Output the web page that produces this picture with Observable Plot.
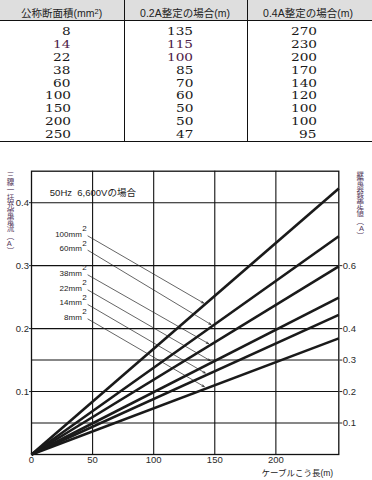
<!DOCTYPE html>
<html>
<head>
<meta charset="utf-8">
<script src="https://cdn.jsdelivr.net/npm/d3@7"></script>
<script src="https://cdn.jsdelivr.net/npm/@observablehq/plot@0.6"></script>
<style>
  body { margin: 0; background: #fff; }
  #wrap { position: relative; width: 372px; height: 480px; overflow: hidden; }
  #table { position: absolute; left: 0; top: 0; width: 372px; height: 145px; }
  #chart { position: absolute; left: 0; top: 145px; }
  .hbg { position: absolute; left: 0; top: 0; width: 372px; height: 20.5px; background: #dedede; }
  .hline { position: absolute; left: 0; width: 372px; background: #111; }
  .vline { position: absolute; top: 0; width: 1px; height: 142px; background: #111; }
  .htxt { position: absolute; top: 5.5px; line-height: 14px; font-size: 10.5px; color: #222;
          font-family: "Liberation Sans", "Noto Sans CJK JP", sans-serif; transform: translateX(-50%); white-space: nowrap; }
  .htxt sup { font-size: 7.5px; vertical-align: 3px; line-height: 0; }
  .cell { position: absolute; line-height: 14px; font-size: 10.5px; font-family: "DejaVu Serif", serif; color: #1a1a1a; text-align: right; }
  .cell span { display: inline-block; transform: scaleX(1.3); transform-origin: right center; }
</style>
</head>
<body>
<div id="wrap">
  <div id="table"></div>
  <div id="chart"></div>
</div>
<script>
// ---------- table data ----------
const tableHeaders = ["公称断面積(mm<sup>2</sup>)", "0.2A整定の場合(m)", "0.4A整定の場合(m)"];
const crossSections = [8, 14, 22, 38, 60, 100, 150, 200, 250];
const length02 = [135, 115, 100, 85, 70, 60, 50, 50, 47];
const length04 = [270, 230, 200, 170, 140, 120, 100, 100, 95];

// ---------- chart data ----------
const lineSizes = [8, 14, 22, 38, 60, 100];                          // mm²
const currentAtEnd = [0.1845, 0.2217, 0.2493, 0.2987, 0.3466, 0.4226]; // A at endLength
const endLength = 251.5;                                               // m
const xTicks = [0, 50, 100, 150, 200];
const yTicksLeft = [0.1, 0.2, 0.3, 0.4];
const relayTicks = [0.1, 0.2, 0.3, 0.4, 0.6];   // right axis (relay setting, = 2 × current)
const gridY = [0.05, 0.1, 0.15, 0.2, 0.3, 0.4];
const gridX = [50, 100, 150, 200];
const chartTitle = "50Hz  6,600Vの場合";
const leftLabel = "三線一括充電電流︵A︶";
const rightLabel = "継電器整定値︵A︶";
const xLabel = "ケーブルこう長(m)";
// annotation label positions (data units) and arrow targets
const labelY = [0.2182, 0.2411, 0.2643, 0.2882, 0.3273, 0.3501];
const tipX = [141.4, 142.2, 146.3, 144.9, 146.9, 140.8];

// ---------- build table ----------
const tbl = document.getElementById("table");
function el(cls, style, html) {
  const d = document.createElement("div");
  d.className = cls;
  Object.assign(d.style, style);
  if (html !== undefined) d.innerHTML = html;
  tbl.appendChild(d);
  return d;
}
el("hbg", {});
el("hline", { top: "20px", height: "1px" });
el("hline", { top: "141px", height: "1.4px" });
el("vline", { left: "123.5px" });
el("vline", { left: "247px" });
const headerCenters = [61.7, 185, 308];
tableHeaders.forEach((h, i) => el("htxt", { left: headerCenters[i] + "px" }, h));
const colRight = [70.7, 193.3, 316.7];
const purple = { "1-0": 1, "1-1": 1, "2-1": 1 };
crossSections.forEach((s, r) => {
  const vals = [s, length02[r], length04[r]];
  vals.forEach((v, c) => {
    const cy = 31 + r * 12.875;
    const d = el("cell", { right: (372 - colRight[c]) + "px", top: (cy - 7) + "px" }, "<span>" + v + "</span>");
    if (purple[r + "-" + c]) d.style.color = "#4e2348";
  });
});

// ---------- chart ----------
const labelX = 41.2;
const slope = i => currentAtEnd[i] / endLength;
const font = "'Liberation Sans', 'Noto Sans CJK JP', sans-serif";
const chart = Plot.plot({
  width: 372,
  height: 335,
  marginTop: 25.7,
  marginBottom: 26,
  marginLeft: 31,
  marginRight: 33.7,
  style: { fontFamily: font, fontSize: "9.5px", color: "#2a2a2a", background: "#fff" },
  x: { domain: [0, endLength] },
  y: { domain: [0, 0.45] },
  marks: [
    Plot.ruleY(gridY, { stroke: "#111", strokeWidth: 1.1 }),
    Plot.ruleX(gridX, { stroke: "#111", strokeWidth: 1.1 }),
    Plot.frame({ stroke: "#111", strokeWidth: 1.3 }),
    Plot.axisX({ ticks: xTicks, tickSize: 0, tickPadding: 1.5, label: null, fontSize: 9.5 }),
    Plot.axisY({ ticks: yTicksLeft, tickSize: 2, tickPadding: 0.5, label: null, tickFormat: d => d.toFixed(1), fontSize: 9.5 }),
    Plot.axisY({ anchor: "right", ticks: relayTicks.map(v => v / 2), tickSize: 3, tickPadding: 1, label: null,
                 tickFormat: d => (d * 2).toFixed(1), fontSize: 9.5 }),
    Plot.link(lineSizes, {
      x1: () => 0, y1: () => 0,
      x2: () => endLength, y2: (d, i) => currentAtEnd[i],
      stroke: "#1a1a1a", strokeWidth: 2.6
    }),
    Plot.arrow(lineSizes, {
      x1: () => labelX + 5, y1: (d, i) => labelY[i] - 0.003,
      x2: (d, i) => tipX[i], y2: (d, i) => slope(i) * tipX[i] + 0.004,
      stroke: "#222", strokeWidth: 0.7, headLength: 5, headAngle: 45
    }),
    Plot.text(lineSizes, {
      x: () => labelX, y: (d, i) => labelY[i], text: d => d + "mm",
      textAnchor: "end", fontSize: 8, fill: "#222"
    }),
    Plot.text(lineSizes, {
      x: () => labelX, y: (d, i) => labelY[i], text: () => "2",
      textAnchor: "start", dx: 0.3, dy: -5.5, fontSize: 8, fill: "#222"
    }),
    Plot.text([chartTitle], { x: () => 15, y: () => 0.4158, text: d => d, textAnchor: "start", fontSize: 9.5, fill: "#222" }),
    Plot.text([leftLabel], {
      frameAnchor: "top-left", text: d => d.split("").join("\n"), dx: -24.7, dy: 1,
      lineAnchor: "top", lineHeight: 1.02, fontSize: 7.5, fill: "#553a5c"
    }),
    Plot.text([rightLabel], {
      frameAnchor: "top-right", text: d => d.split("").join("\n"), dx: 25.2, dy: 1,
      lineAnchor: "top", lineHeight: 1.02, fontSize: 7.5, fill: "#553a5c"
    }),
    Plot.text([xLabel], {
      frameAnchor: "bottom-right", text: d => d, textAnchor: "end", dx: -5.6, dy: 21,
      fontSize: 8.5, fill: "#222"
    })
  ]
});
document.getElementById("chart").appendChild(chart);
</script>
</body>
</html>
